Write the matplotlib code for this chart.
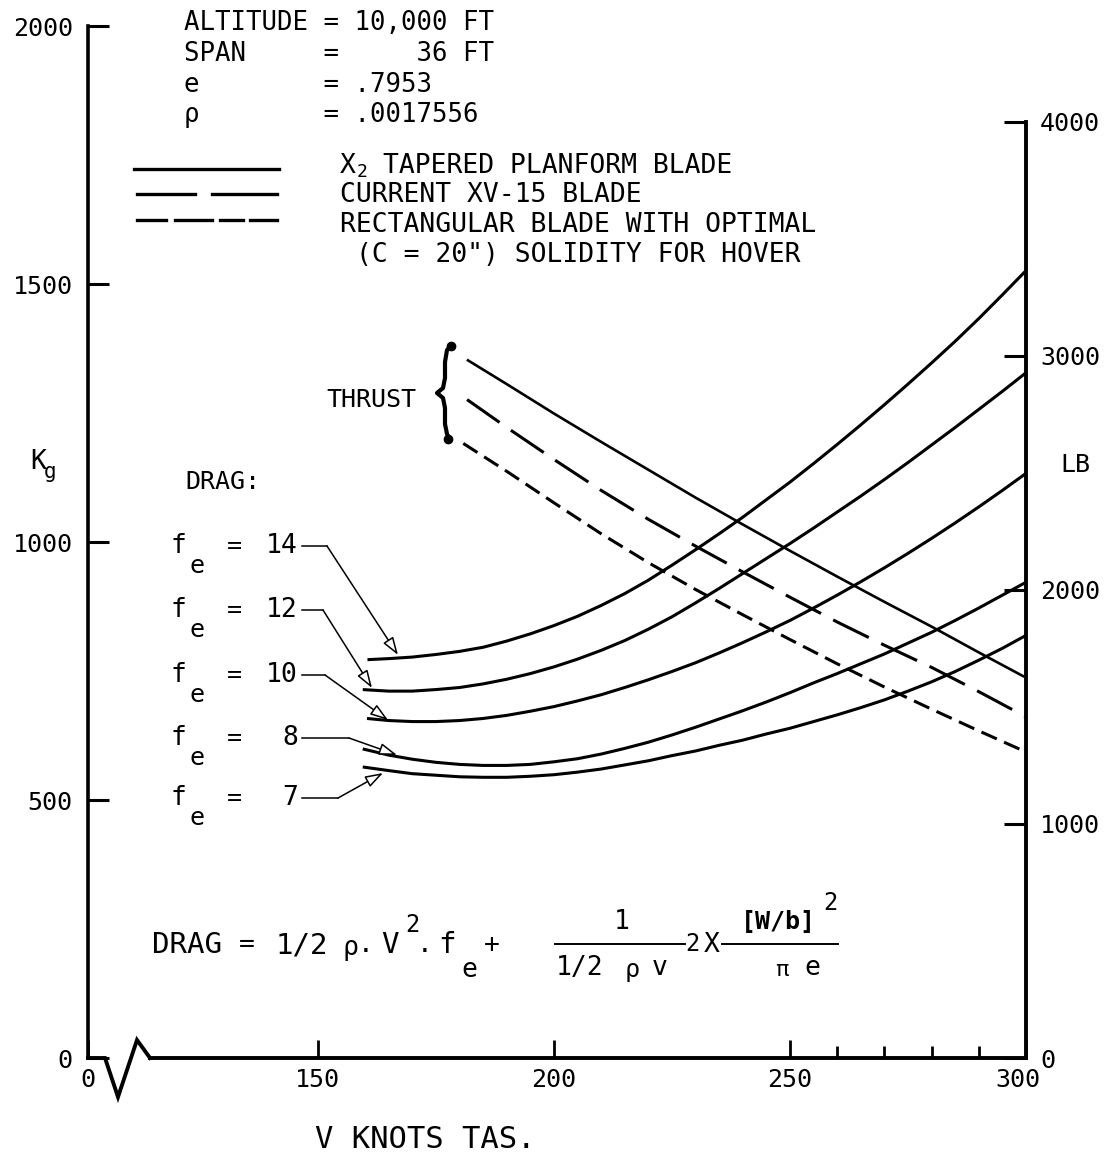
import matplotlib
matplotlib.use("Agg")
import matplotlib.pyplot as plt
from matplotlib.lines import Line2D
from matplotlib.patches import FancyArrowPatch
from matplotlib.transforms import ScaledTranslation

plt.rcParams["font.family"] = ["DejaVu Sans Mono", "DejaVu Sans"]
plt.rcParams["font.size"] = 18

W, H = 1114, 1160
KG_TO_LB = 2.20462

# drag curves, V (knots TAS) vs drag (kg)
v_fe14 = [160.5, 165, 170, 175, 180, 185, 190, 195, 200, 205, 210, 215, 220, 225, 230, 235,
          240, 245, 250, 255, 260, 265, 270, 275, 280, 285, 290, 295, 300]
kg_fe14 = [772, 774, 777, 782, 788, 796, 808, 822, 838, 856, 877, 900, 926, 955, 985, 1016,
           1048, 1082, 1116, 1152, 1189, 1227, 1266, 1306, 1347, 1389, 1433, 1479, 1526]

v_fe12 = [159.5, 165, 170, 175, 180, 185, 190, 195, 200, 205, 210, 215, 220, 225, 230, 235,
          240, 245, 250, 255, 260, 265, 270, 275, 280, 285, 290, 295, 300]
kg_fe12 = [714, 711, 711, 714, 718, 725, 734, 745, 758, 773, 790, 809, 831, 855, 882, 910,
           939, 968, 997, 1027, 1058, 1089, 1121, 1154, 1188, 1222, 1257, 1292, 1328]

v_fe10 = [160.4, 165, 170, 175, 180, 185, 190, 195, 200, 205, 210, 215, 220, 225, 230, 235,
          240, 245, 250, 255, 260, 265, 270, 275, 280, 285, 290, 295, 300]
kg_fe10 = [658, 654, 652, 652, 654, 658, 664, 672, 681, 692, 704, 718, 733, 749, 766, 785,
           805, 826, 848, 872, 897, 923, 950, 978, 1007, 1037, 1068, 1100, 1133]

v_fe8 = [159.5, 165, 170, 175, 180, 185, 190, 195, 200, 205, 210, 215, 220, 225, 230, 235,
         240, 245, 250, 255, 260, 265, 270, 275, 280, 285, 290, 295, 300]
kg_fe8 = [599, 587, 579, 573, 569, 567, 567, 569, 574, 580, 589, 600, 612, 626, 641, 657,
          673, 690, 708, 727, 745, 764, 783, 804, 825, 848, 872, 897, 922]

v_fe7 = [159.5, 165, 170, 175, 180, 185, 190, 195, 200, 205, 210, 215, 220, 225, 230, 235,
         240, 245, 250, 255, 260, 265, 270, 275, 280, 285, 290, 295, 300]
kg_fe7 = [564, 557, 551, 548, 545, 544, 544, 546, 549, 554, 560, 568, 576, 586, 595, 606,
          616, 628, 639, 652, 665, 679, 694, 711, 729, 749, 771, 794, 819]

drag_labels = ["14", "12", "10", "8", "7"]

# thrust, V (knots) vs kg
v_thr_x2 = [181.8, 190, 200, 210, 220, 230, 240, 250, 260, 270, 280, 290, 299.4]
kg_thr_x2 = [1352, 1306, 1249, 1194, 1140, 1086, 1034, 983, 933, 884, 836, 786, 740]

v_thr_xv15 = [181.6, 190, 200, 210, 220, 230, 240, 250, 260, 270, 280, 290, 300]
kg_thr_xv15 = [1276, 1222, 1160, 1100, 1044, 992, 942, 893, 845, 800, 757, 710, 661]

v_thr_rect = [180.8, 190, 200, 210, 220, 230, 240, 250, 260, 270, 280, 290, 300]
kg_thr_rect = [1191, 1137, 1076, 1016, 960, 908, 859, 811, 764, 719, 676, 634, 593]

x_ticks = [101.3, 150, 200, 250, 300]
x_ticklabels = ["0", "150", "200", "250", "300"]
x_minor = [260, 270, 280, 290]
kg_ticks = [0, 500, 1000, 1500, 2000]
lb_ticks = [0, 1000, 2000, 3000, 4000]

fig = plt.figure(figsize=(W / 100, H / 100), dpi=100)


def fx(px):
    return px / W


def fy(py):
    return 1 - py / H


def txt(x, y, s, **kw):
    kw.setdefault("ha", "center")
    kw.setdefault("va", "center")
    fig.text(fx(x), fy(y), s, **kw)


def fline(xs, ys, **kw):
    fig.add_artist(Line2D([fx(v) for v in xs], [fy(v) for v in ys],
                          transform=fig.transFigure, color="black", **kw))


ax = fig.add_axes([fx(88), fy(1058), (1026 - 88) / W, (1058 - 26) / H])
ax.set_xlim(101.3, 300)
ax.set_ylim(0, 2000)
ax2 = ax.twinx()
ax2.set_ylim(0, 2000 * KG_TO_LB)

lw = 2.2
ls_long = (0, (13, 4.5))
ls_short = (0, (5.5, 2.6))

for v, kg in [(v_fe14, kg_fe14), (v_fe12, kg_fe12), (v_fe10, kg_fe10),
              (v_fe8, kg_fe8), (v_fe7, kg_fe7)]:
    ax.plot(v, kg, color="black", lw=lw, solid_capstyle="butt")

ax.plot(v_thr_x2, kg_thr_x2, color="black", lw=1.9)
ax.plot(v_thr_xv15, kg_thr_xv15, color="black", lw=lw, linestyle=ls_long)
ax.plot(v_thr_rect, kg_thr_rect, color="black", lw=lw, linestyle=ls_short)

# spines and ticks
for a in (ax, ax2):
    a.spines["top"].set_visible(False)
ax.spines["right"].set_visible(False)
ax2.spines["left"].set_visible(False)
ax2.spines["bottom"].set_visible(False)
ax.spines["left"].set_linewidth(2.6)
ax.spines["bottom"].set_linewidth(2.8)
ax2.spines["right"].set_linewidth(2.8)
ax2.spines["right"].set_bounds(0, 4000)
ax.spines["bottom"].set_bounds(114.43, 300)

ax.set_xticks(x_ticks, x_ticklabels)
ax.set_xticks(x_minor, minor=True)
ax.set_yticks(kg_ticks, [str(t) for t in kg_ticks])
ax2.set_yticks(lb_ticks, [str(t) for t in lb_ticks])
ax.tick_params(axis="x", which="major", direction="in", length=13, width=2, pad=7, labelsize=18)
ax.tick_params(axis="x", which="minor", direction="in", length=9, width=2)
ax.tick_params(axis="y", direction="in", length=15, width=2.2, pad=11, labelsize=18)
ax2.tick_params(axis="y", direction="in", length=16, width=2.2, pad=10, labelsize=18)
last = ax.get_xticklabels()[-1]
last.set_transform(last.get_transform() + ScaledTranslation(-0.08, 0, fig.dpi_scale_trans))

# axis break on the bottom left
fline([88, 105, 118, 137, 150], [1058, 1058, 1097, 1040, 1058], lw=2.8, solid_joinstyle="miter")

# axis titles
txt(30, 462, "K", ha="left", size=19)
txt(44, 472, "g", ha="left", size=15)
txt(1075, 465, "LB", size=18)
txt(425, 1140, "V KNOTS TAS.", size=22)

# header block
hdr = [("ALTITUDE = 10,000 FT", 30), ("SPAN     =     36 FT", 61),
       ("e        = .7953", 92), ("ρ        = .0017556", 122)]
for s, yb in hdr:
    txt(184, yb, s, ha="left", va="baseline", size=18.5)

# legend
fline([134, 279], [169, 169], lw=2.4)
fline([137, 195], [194, 194], lw=2.4)
fline([212, 277], [194, 194], lw=2.4)
fline([137, 166], [220, 220], lw=2.4)
fline([175, 212], [220, 220], lw=2.4)
fline([220, 243], [220, 220], lw=2.4)
fline([250, 277], [220, 220], lw=2.4)
txt(340, 173, "X", ha="left", va="baseline", size=19)
txt(362, 172, "2", size=13)
txt(383, 173, "TAPERED PLANFORM BLADE", ha="left", va="baseline", size=19)
txt(340, 202, "CURRENT XV-15 BLADE", ha="left", va="baseline", size=19)
txt(340, 232, "RECTANGULAR BLADE WITH OPTIMAL", ha="left", va="baseline", size=19)
txt(356, 262, '(C = 20") SOLIDITY FOR HOVER', ha="left", va="baseline", size=19)

# thrust brace
txt(371, 400, "THRUST", size=18)
fline([452, 447, 445, 445, 443, 437, 443, 445, 445, 447, 450],
      [345, 350, 362, 378, 388, 393, 398, 408, 424, 434, 440], lw=3)
fig.add_artist(Line2D([fx(451), fx(448)], [fy(346), fy(439)], transform=fig.transFigure,
                      ls="none", marker="o", ms=6, color="black"))

# drag labels with leaders
txt(185, 482, "DRAG:", ha="left", size=18)
rows = [546, 610, 675, 738, 798]
bends = [(327, 398, 655), (323, 372, 688), (325, 388, 720), (349, 397, 755), (338, 383, 773)]
for lab, yr, (xb, xt, yt) in zip(drag_labels, rows, bends):
    txt(178, yr, "f", size=19)
    txt(197, yr + 20, "e", size=18)
    txt(234, yr, "=", size=18)
    txt(298, yr, lab, ha="right", size=19)
    fline([302, xb], [yr, yr], lw=1.1)
    fig.add_artist(FancyArrowPatch((fx(xb), fy(yr)), (fx(xt), fy(yt)),
                                   transform=fig.transFigure,
                                   arrowstyle="-|>,head_length=0.9,head_width=0.3",
                                   mutation_scale=12, lw=1.1, fc="white", ec="black",
                                   shrinkA=0, shrinkB=0))

# drag formula
txt(152, 945, "DRAG", ha="left", size=21)
txt(247, 945, "=", size=19)
txt(302, 945, "1/2", size=21)
txt(350, 948, "ρ", size=19)
txt(366, 945, ".", size=19)
txt(390, 945, "V", size=21)
txt(412, 925, "2", size=17)
txt(425, 945, ".", size=19)
txt(447, 945, "f", size=21)
txt(469, 970, "e", size=19)
txt(492, 945, "+", size=19)
txt(622, 922, "1", size=19)
fline([555, 685], [944, 944], lw=1.4)
txt(580, 968, "1/2", size=19)
txt(632, 970, "ρ", size=18)
txt(660, 968, "v", size=19)
txt(692, 944, "2", size=17)
txt(712, 945, "X", size=19)
fline([722, 838], [944, 944], lw=1.4)
txt(778, 922, "[W/b]", size=18, weight="bold")
txt(830, 903, "2", size=17)
txt(782, 970, "π", size=16)
txt(812, 968, "e", size=19)

fig.savefig("out.png", dpi=100)
